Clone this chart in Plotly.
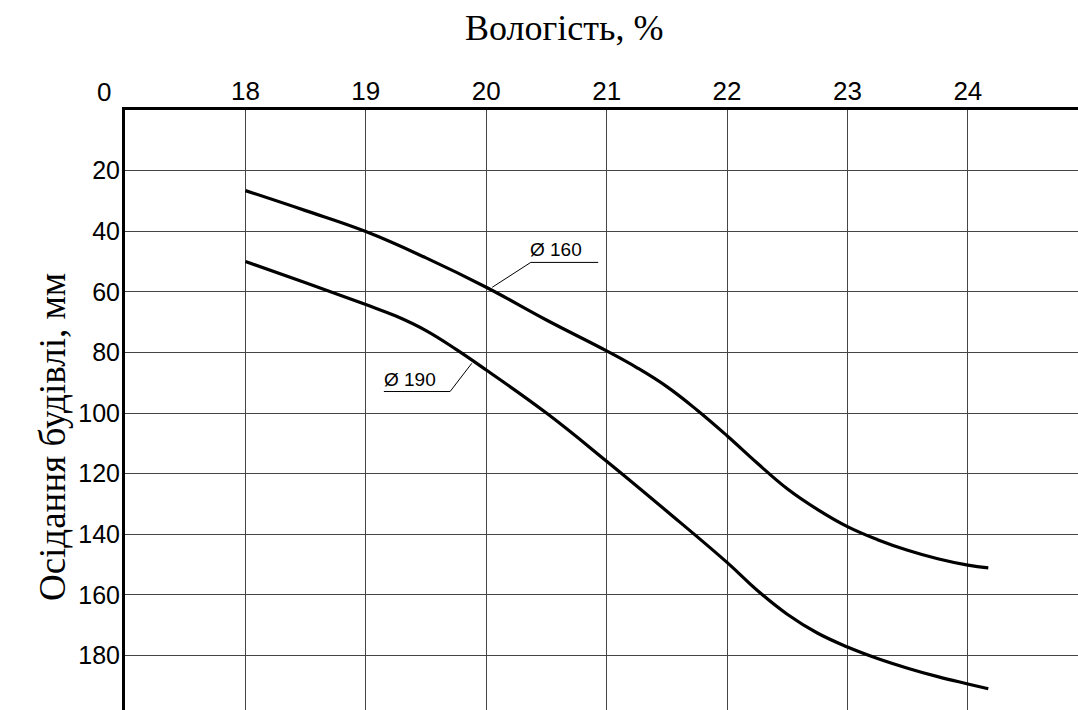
import plotly.graph_objects as go

# Moisture content, % (x) and building settlement, mm (y) for two pile diameters
moisture_160 = [18, 18.5, 19, 19.5, 20, 20.5, 21, 21.25, 21.5, 21.75, 22, 22.25, 22.5,
                22.75, 23, 23.25, 23.5, 23.75, 24, 24.17]
settle_160 = [26.6, 33.2, 40.1, 48.8, 58.5, 69.3, 79.5, 85.0, 91.3, 99.0, 107.5, 116.5, 125.0,
              131.8, 137.5, 141.8, 145.3, 148.1, 150.2, 151.1]

moisture_190 = [18, 18.5, 19, 19.25, 19.5, 19.75, 20, 20.5, 21, 21.5, 22, 22.25, 22.5,
                22.75, 23, 23.25, 23.5, 23.75, 24, 24.17]
settle_190 = [50.0, 57.0, 64.2, 68.0, 72.8, 79.0, 85.8, 100.0, 115.9, 132.4, 149.3, 158.5, 166.4,
              172.6, 177.2, 181.0, 184.2, 187.0, 189.4, 191.0]

x_ticks = [18, 19, 20, 21, 22, 23, 24]
y_ticks = [20, 40, 60, 80, 100, 120, 140, 160, 180]

# Leader lines for the curve labels: (start on curve, elbow, end of shelf)
leader_160 = ([20.05, 20.37, 20.93], [58.5, 50.3, 50.3])
leader_190 = ([19.88, 19.70, 19.15], [83.6, 92.9, 92.9])

SANS = "Liberation Sans, Arial, sans-serif"
SERIF = "Liberation Serif, Times New Roman, serif"
TICK_SIZE = 25

fig = go.Figure()

for xs, ys in ((moisture_160, settle_160), (moisture_190, settle_190)):
    fig.add_trace(go.Scatter(
        x=xs, y=ys, mode="lines",
        line=dict(color="black", width=3.2, shape="spline", smoothing=1.2),
        showlegend=False, hoverinfo="skip",
    ))

for lx, ly in (leader_160, leader_190):
    fig.add_trace(go.Scatter(
        x=lx, y=ly, mode="lines",
        line=dict(color="black", width=1),
        showlegend=False, hoverinfo="skip",
    ))

# Curve labels sit on their leader shelves
fig.add_annotation(x=leader_160[0][1], y=leader_160[1][1], text="Ø 160",
                   showarrow=False, xanchor="left", yanchor="bottom",
                   xshift=-3, yshift=0, font=dict(family=SANS, size=19, color="black"))
fig.add_annotation(x=leader_190[0][2], y=leader_190[1][2], text="Ø 190",
                   showarrow=False, xanchor="left", yanchor="bottom",
                   xshift=-2, yshift=0, font=dict(family=SANS, size=19, color="black"))

# Shared origin label
fig.add_annotation(x=17, y=0, text="0", showarrow=False,
                   xanchor="center", yanchor="middle", xshift=-21, yshift=18,
                   font=dict(family=SANS, size=TICK_SIZE + 1, color="black"))

# Axis titles
fig.add_annotation(xref="paper", yref="paper", x=0.4607, y=1.137,
                   text="Вологість, %", showarrow=False,
                   xanchor="center", yanchor="middle",
                   font=dict(family=SERIF, size=36, color="black"))
fig.add_annotation(xref="paper", yref="paper", x=-0.0755, y=0.455,
                   text="Осідання будівлі, мм", showarrow=False, textangle=-90,
                   xanchor="center", yanchor="middle",
                   font=dict(family=SERIF, size=37, color="black"))

fig.update_xaxes(
    side="top", range=[17, 24.915],
    tickvals=x_ticks, ticktext=[str(v) for v in x_ticks],
    tickfont=dict(family=SANS, size=TICK_SIZE + 1, color="black"),
    showgrid=True, gridcolor="#444", gridwidth=1,
    showline=True, linecolor="black", linewidth=3,
    zeroline=False, ticks="", ticklabelstandoff=-3,
)
fig.update_yaxes(
    range=[198, 0],
    tickvals=y_ticks, ticktext=[str(v) for v in y_ticks],
    tickfont=dict(family=SANS, size=TICK_SIZE, color="black"),
    showgrid=True, gridcolor="#444", gridwidth=1,
    showline=True, linecolor="black", linewidth=3,
    zeroline=False, ticks="", ticklabelstandoff=-3,
)

fig.update_layout(
    width=1078, height=710,
    margin=dict(l=125, r=0, t=110, b=0),
    paper_bgcolor="white", plot_bgcolor="white",
)

fig.write_html("out.html")
